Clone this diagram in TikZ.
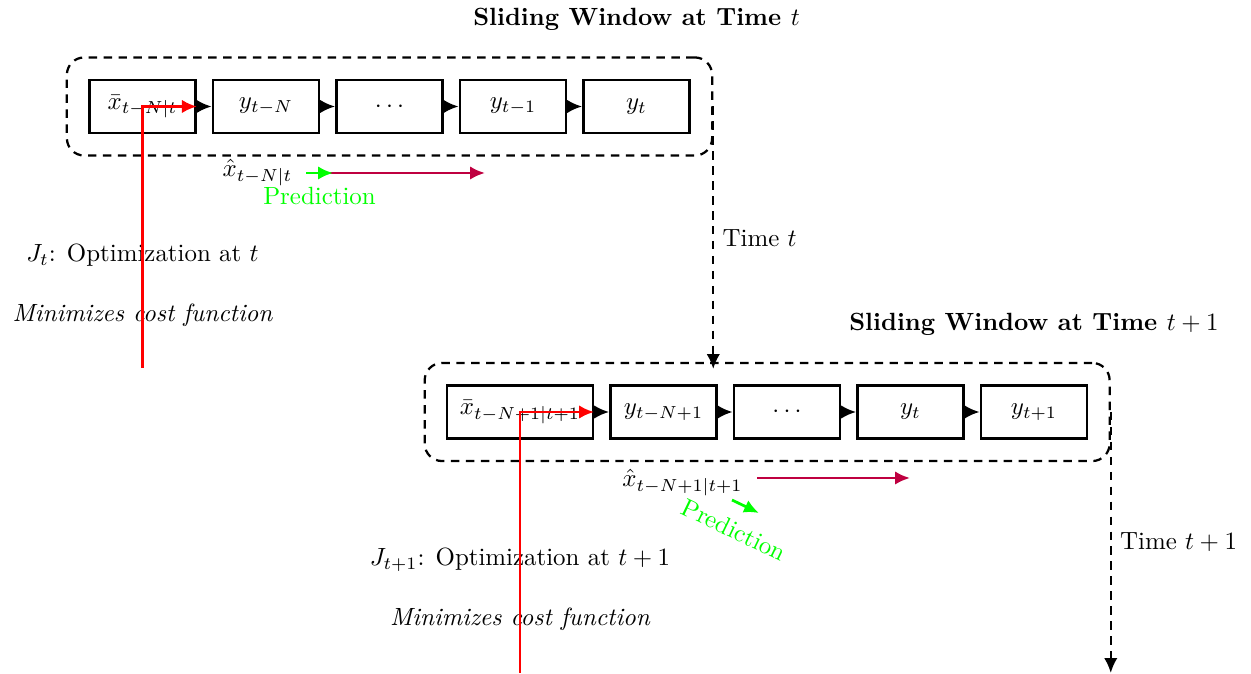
\documentclass[tikz,border=0pt]{standalone}
\usetikzlibrary{arrows.meta,positioning,fit}
\begin{document}
\begin{tikzpicture}[
  x=0.4016pt, y=-0.4016pt,
  cell/.style={draw, line width=1pt, minimum width=1.5cm, minimum height=0.75cm, inner sep=3.33pt},
  window/.style={draw, line width=0.9pt, dash pattern=on 3.4pt off 2.6pt, rounded corners=7pt, inner sep=0.3cm},
  tipped/.style={-{Latex[length=6pt,width=5.4pt]}, line width=1pt},
  timeflow/.style={tipped, line width=0.9pt, dash pattern=on 3.4pt off 2.6pt},
  optlink/.style={tipped, red, line width=1.1pt},
  predlink/.style={tipped, purple, line width=1.1pt},
  guess/.style={tipped, green, line width=1.1pt},
  predtext/.style={text=green},
  title/.style={font=\bfseries, anchor=base},
  lbl/.style={anchor=base},
]
\useasboundingbox (0,0) rectangle (1251,674);

% ---- sliding window at time t ----
\node[cell] (a1) at (142.5,106.5) {$\bar{x}_{t-N|t}$};
\node[cell] (a2) at (266,106.5)   {$y_{t-N}$};
\node[cell] (a3) at (389.5,106.5) {$\cdots$};
\node[cell] (a4) at (513,106.5)   {$y_{t-1}$};
\node[cell] (a5) at (636.5,106.5) {$y_t$};
\draw[tipped] (a1) -- (a2);
\draw[tipped] (a2) -- (a3);
\draw[tipped] (a3) -- (a4);
\draw[tipped] (a4) -- (a5);
\node[window, fit=(a1)(a5)] (w1) {};
\node[title] (t1) at (636.5,26) {Sliding Window at Time $t$};

\node[lbl] (j1) at (142.5,262) {$J_t$: Optimization at $t$};
\node[lbl, font=\itshape] (c1) at (142.5,322) {Minimizes cost function};
\coordinate (r1) at (142.5,368);
\draw[optlink] (a1 |- r1) |- (a1.east);

\node[lbl] (h1) at (257.5,177) {$\hat{x}_{t-N|t}$};
\coordinate (p1s) at (313,173);
\coordinate (p1e) at (485,173);
\draw[predlink] (p1s) -- (p1e);
\coordinate (g1s) at (306,173);
\coordinate (g1e) at (333,173);
\draw[guess] (g1s) -- node[predtext, below=1.8pt] {Prediction} (g1e);

% ---- sliding window at time t+1 ----
\node[cell, minimum width=58.5pt] (b1) at (520,412) {$\bar{x}_{t-N+1|t+1}$};
\node[cell] (b2) at (663.5,412) {$y_{t-N+1}$};
\node[cell] (b3) at (787,412)   {$\cdots$};
\node[cell] (b4) at (910.5,412) {$y_t$};
\node[cell] (b5) at (1034,412)  {$y_{t+1}$};
\draw[tipped] (b1) -- (b2);
\draw[tipped] (b2) -- (b3);
\draw[tipped] (b3) -- (b4);
\draw[tipped] (b4) -- (b5);
\node[window, fit=(b1)(b5)] (w2) {};
\node[title] (t2) at (1034,331) {Sliding Window at Time $t+1$};

\node[lbl] (j2) at (520,566) {$J_{t+1}$: Optimization at $t+1$};
\node[lbl, font=\itshape] (c2) at (520,626) {Minimizes cost function};
\coordinate (r2) at (520,673);
\draw[optlink] (b1 |- r2) |- (b1.east);

\node[lbl] (h2) at (682.5,487) {$\hat{x}_{t-N+1|t+1}$};
\coordinate (p2s) at (757,478);
\coordinate (p2e) at (910,478);
\draw[predlink] (p2s) -- (p2e);
\coordinate (g2s) at (732,500);
\coordinate (g2e) at (759,513);
\draw[guess] (g2s) -- node[predtext, sloped, below=3pt] {Prediction} (g2e);

% ---- passage of time ----
\coordinate (d1) at (0,369);
\draw[timeflow] (w1.east) -- node[right] {Time $t$} (w1.east |- d1);
\coordinate (d2) at (0,673);
\draw[timeflow] (w2.east) -- node[right] {Time $t+1$} (w2.east |- d2);
\end{tikzpicture}
\end{document}
